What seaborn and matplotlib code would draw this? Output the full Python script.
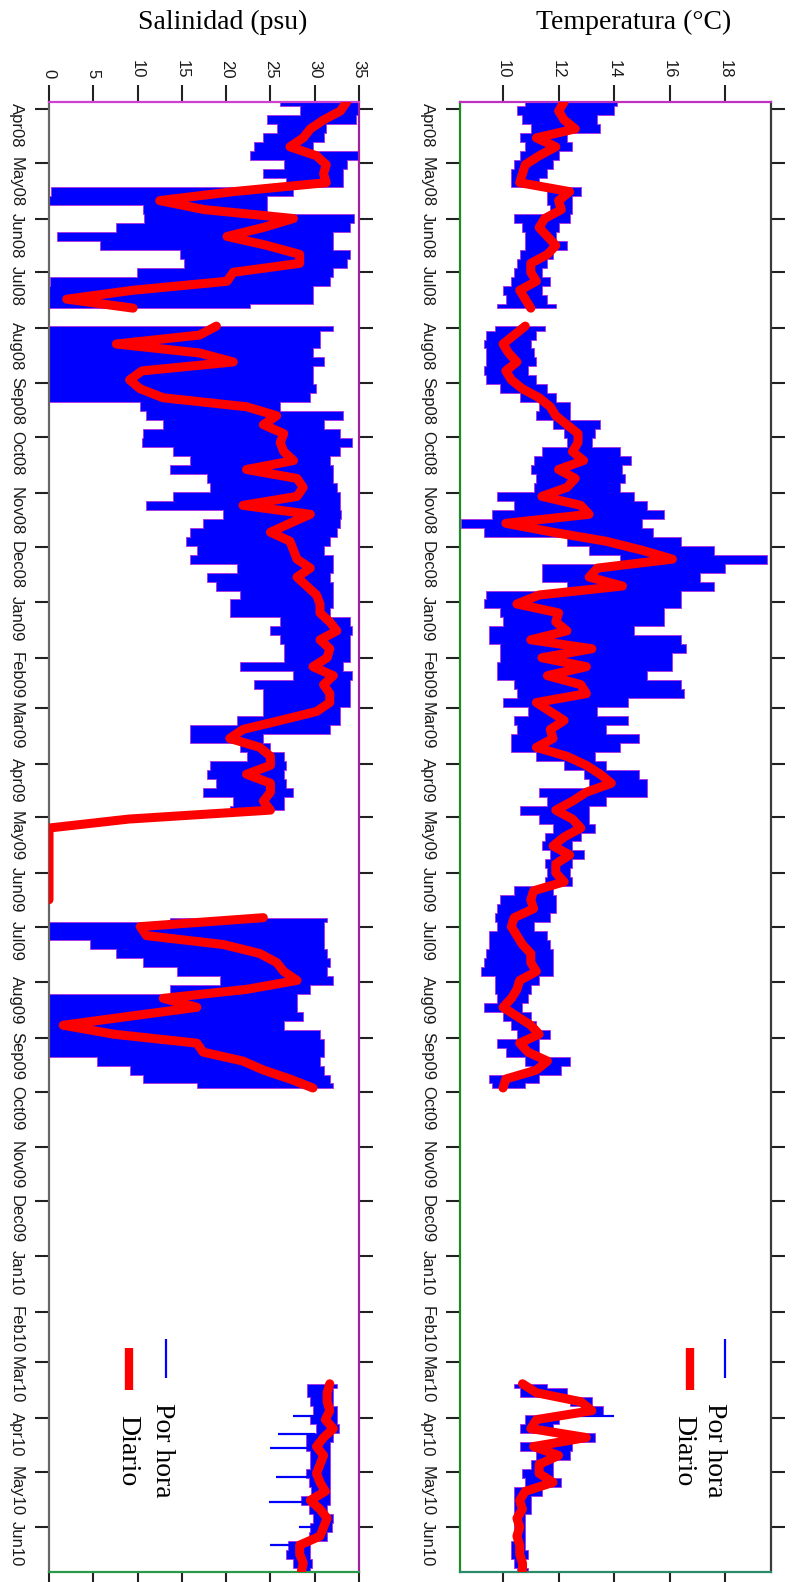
import numpy as np
import pandas as pd
import matplotlib
matplotlib.use("Agg")
import matplotlib.pyplot as plt
import matplotlib.dates as mdates
from matplotlib.lines import Line2D
import seaborn as sns

nan = np.nan

# ---------------- data (one value every 5 days) -------------
dates = pd.date_range("2008-03-28", periods=165, freq="5D")

temp_mean = [12.2, 12.0, 12.2, 12.6, 11.2, 11.9, 11.3, 10.8, 10.7, 10.6,
             12.4, 12.0, 12.1, 11.5, 11.3, 11.6, 11.9, 11.6, 11.0, 11.0,
             11.2, 10.6, 10.8, 11.0, nan, 10.8, 10.4, 10.0, 10.2, 10.5,
             10.1, 10.3, 10.7, 11.3, 11.7, 11.9, 12.3, 12.7, 12.7, 12.5,
             12.9, 12.0, 12.6, 12.3, 11.4, 12.8, 13.1, 10.1, 11.8, 13.7,
             15.0, 16.1, 13.4, 13.1, 14.3, 11.3, 10.5, 12.0, 11.9, 12.3,
             11.0, 13.2, 11.4, 13.0, 11.6, 12.8, 13.0, 11.2, 11.7, 12.2,
             11.7, 11.8, 11.2, 12.3, 13.0, 13.5, 13.9, 13.0, 12.5, 11.9,
             12.5, 12.8, 12.2, 11.8, 12.4, 11.9, 11.9, 12.2, 11.1, 11.0,
             11.1, 10.4, 10.3, 10.5, 10.7, 11.0, 11.0, 11.2, 10.6, 10.5,
             10.3, 10.0, 10.5, 11.0, 11.3, 10.6, 10.9, 11.6, 11.2, 10.1, 10.0] + [nan] * 32 + \
            [10.7, 11.2, 12.8, 13.2, 11.2, 11.0, 13.0, 11.1, 12.0, 11.3, 11.3,
             11.8, 10.8, 10.6, 10.7, 10.5, 10.6, 10.5, 10.6, 10.6, 10.7, 10.7]

temp_min = [10.8, 10.5, 10.7, 11.0, 10.6, 10.8, 10.6, 10.4, 10.3, 10.3,
            11.6, 11.6, 11.7, 10.4, 10.7, 10.8, 10.8, 10.6, 10.5, 10.4,
            10.3, 10.0, 10.1, 9.8, nan, 9.7, 9.4, 9.3, 9.4, 9.4,
            9.3, 9.4, 9.9, 10.6, 11.3, 11.2, 11.8, 12.2, 12.3, 11.4,
            11.1, 11.0, 11.2, 11.1, 9.8, 10.4, 9.6, 8.5, 9.3, 12.3,
            13.1, 14.2, 11.4, 11.4, 12.3, 9.4, 9.3, 9.9, 10.0, 9.5,
            9.5, 9.9, 9.9, 9.8, 9.8, 10.4, 10.5, 10.0, 10.9, 10.4,
            10.5, 10.3, 10.3, 11.2, 12.2, 12.9, 13.1, 11.3, 11.6, 10.6,
            11.3, 11.8, 11.5, 11.4, 11.7, 11.5, 11.6, 11.5, 10.4, 9.9,
            9.8, 9.7, 9.8, 9.5, 9.5, 9.4, 9.3, 9.2, 9.7, 9.7,
            9.8, 9.3, 10.0, 10.3, 10.5, 9.8, 10.1, 10.8, 11.0, 9.5, 9.6] + [nan] * 32 + \
           [10.4, 10.6, 12.4, 12.8, 10.8, 10.6, 12.3, 10.6, 11.2, 11.0, 10.7,
            10.8, 10.4, 10.4, 10.4, 10.4, 10.4, 10.4, 10.3, 10.3, 10.4, 10.5]

temp_max = [14.1, 14.0, 13.4, 13.5, 12.3, 12.5, 12.0, 11.8, 11.6, 11.3,
            12.8, 12.5, 12.5, 12.4, 12.0, 11.9, 12.3, 11.8, 11.6, 11.4,
            11.7, 11.4, 11.6, 11.9, nan, 11.5, 11.2, 11.0, 11.1, 11.2,
            10.9, 11.2, 11.6, 11.9, 12.4, 12.4, 13.5, 13.3, 13.2, 14.2,
            14.6, 14.3, 14.4, 14.2, 14.7, 15.2, 15.8, 15.0, 15.4, 16.4,
            17.6, 19.5, 18.0, 17.1, 17.6, 16.4, 16.4, 15.8, 15.8, 14.7,
            16.4, 16.6, 16.1, 16.1, 15.2, 16.4, 16.5, 14.5, 13.4, 14.5,
            13.7, 14.9, 14.2, 13.3, 13.7, 14.9, 15.2, 15.2, 13.7, 13.1,
            13.1, 13.3, 12.8, 12.5, 12.9, 12.5, 12.4, 12.5, 11.8, 11.9,
            11.9, 11.7, 11.1, 11.6, 11.7, 11.8, 11.8, 11.8, 11.3, 11.0,
            10.9, 10.7, 11.0, 11.2, 11.7, 11.3, 11.3, 12.4, 12.1, 11.3, 10.8] + [nan] * 32 + \
           [11.6, 12.3, 13.2, 13.6, 12.0, 11.8, 13.3, 12.5, 12.4, 11.8, 11.8,
            12.1, 11.4, 11.0, 11.0, 10.8, 10.8, 10.8, 10.8, 10.9, 10.8, 10.9]

sal_mean = [33.6, 32.9, 31.0, 29.5, 28.7, 27.2, 30.2, 31.3, 31.0, 31.3,
            20.8, 12.5, 17.5, 27.6, 24.2, 20.1, 24.6, 28.3, 28.3, 20.8,
            20.1, 9.5, 2.0, 9.5, nan, 18.9, 17.0, 7.6, 17.0, 20.8,
            10.5, 9.1, 10.3, 12.9, 22.3, 25.7, 24.2, 26.5, 26.1, 26.5,
            27.6, 22.3, 28.0, 28.7, 28.0, 21.9, 29.5, 27.2, 25.0, 27.2,
            27.6, 28.0, 29.5, 28.0, 29.1, 30.2, 30.6, 30.6, 31.7, 32.5,
            30.6, 31.7, 31.4, 29.8, 32.1, 31.0, 31.7, 31.7, 30.2, 26.1,
            21.9, 20.4, 23.8, 25.0, 25.0, 22.3, 25.0, 25.0, 24.2, 25.0,
            9.0, 0.0, 0.0, 0.0, 0.0, 0.0, 0.0, 0.0, 0.0, 0.0,
            nan, 24.2, 10.3, 11.0, 19.7, 23.8, 25.7, 26.5, 28.0, 22.3,
            12.9, 16.7, 9.1, 1.6, 7.3, 16.7, 17.4, 21.9, 24.2, 27.2, 29.8] + [nan] * 32 + \
           [31.7, 31.4, 31.4, 31.7, 31.2, 32.1, 31.0, 30.2, 31.0, 30.6, 30.2,
            30.6, 31.2, 29.5, 30.6, 31.4, 31.0, 30.6, 28.3, 28.3, 28.7, 28.5]

sal_min = [26.1, 28.3, 24.6, 25.7, 24.2, 23.1, 22.7, 26.5, 24.2, 26.8,
           0.2, 0.0, 10.6, 10.7, 7.6, 0.9, 5.8, 14.8, 15.2, 9.9,
           0.1, 0.0, 0.0, 0.0, nan, 0.0, 0.0, 0.0, 0.0, 0.0,
           0.0, 0.0, 0.0, 0.0, 10.3, 11.0, 12.9, 10.6, 10.5, 14.0,
           15.9, 13.7, 17.8, 18.2, 14.0, 11.0, 19.7, 17.4, 15.9, 15.5,
           16.7, 15.9, 21.2, 17.8, 18.9, 21.6, 20.4, 20.4, 26.1, 25.0,
           26.1, 26.5, 26.5, 21.6, 27.6, 23.1, 24.2, 24.2, 24.2, 21.2,
           15.9, 15.9, 21.6, 22.3, 18.2, 17.8, 18.9, 17.4, 20.8, 20.4,
           nan, nan, nan, nan, nan, nan, nan, nan, nan, nan,
           nan, 13.7, 0.0, 0.0, 4.6, 7.6, 10.6, 14.4, 19.3, 13.7,
           0.0, 0.0, 0.0, 0.0, 0.0, 0.0, 0.0, 5.4, 9.1, 10.6, 16.7] + [nan] * 32 + \
          [29.1, 29.1, 29.5, 29.8, 29.5, 30.2, 29.0, 29.0, 29.5, 29.5, 29.0,
           29.3, 29.6, 28.5, 29.3, 29.8, 29.5, 29.3, 27.0, 26.8, 27.6, 28.0]

sal_max = [35.0, 34.9, 34.7, 31.3, 31.0, 29.8, 34.9, 33.6, 33.2, 33.2,
           27.6, 24.6, 24.6, 34.4, 34.0, 32.1, 32.1, 34.0, 33.6, 32.1,
           31.7, 29.8, 29.8, 22.7, nan, 32.1, 30.6, 30.6, 29.8, 31.0,
           29.8, 29.8, 30.2, 29.5, 26.1, 33.2, 31.0, 32.9, 34.2, 32.9,
           31.7, 32.1, 32.1, 32.5, 32.9, 32.9, 33.0, 32.9, 32.5, 31.7,
           31.0, 32.1, 32.1, 31.7, 32.1, 32.1, 32.1, 31.7, 34.0, 34.2,
           34.0, 34.0, 34.0, 33.2, 34.2, 34.0, 34.0, 34.0, 32.9, 32.9,
           31.7, 24.2, 25.0, 26.5, 26.8, 26.5, 26.8, 27.6, 26.5, 26.5,
           nan, nan, nan, nan, nan, nan, nan, nan, nan, nan,
           nan, 31.4, 31.0, 31.0, 31.0, 31.4, 31.7, 31.4, 32.1, 29.5,
           28.0, 28.0, 28.7, 26.5, 30.6, 31.0, 31.0, 30.6, 31.0, 31.7, 32.1] + [nan] * 32 + \
          [32.5, 32.1, 32.1, 32.5, 32.5, 32.7, 32.1, 31.7, 31.7, 31.7, 31.7,
           31.7, 31.7, 31.7, 31.4, 32.1, 31.9, 31.4, 29.5, 29.5, 29.7, 29.5]

# isolated hourly spikes (2010)
sal_spike_dates = ["2010-03-31", "2010-04-10", "2010-04-18", "2010-05-04",
                   "2010-05-18", "2010-06-01", "2010-06-11"]
sal_spike_vals = [27.6, 25.9, 25.0, 25.6, 24.8, 28.2, 25.0]
sal_spike_base = [30.5, 30.0, 29.5, 30.0, 29.5, 30.0, 28.5]
temp_spike_dates = ["2010-03-31"]
temp_spike_vals = [14.0]
temp_spike_base = [12.6]

month_ticks = pd.date_range("2008-04-01", "2010-06-01", freq="MS")
month_labels = ["Apr08", "May08", "Jun08", "Jul08", "Aug08", "Sep08", "Oct08",
                "Nov08", "Dec08", "Jan09", "Feb09", "Mar09", "Apr09", "May09",
                "Jun09", "Jul09", "Aug09", "Sep09", "Oct09", "Nov09", "Dec09",
                "Jan10", "Feb10", "Mar10", "Apr10", "May10", "Jun10"]
temp_ticks = [10, 12, 14, 16, 18]
sal_ticks = [0, 5, 10, 15, 20, 25, 30, 35]
date_start, date_end = "2008-03-28", "2010-06-26"

BLUE = "#0000ff"
RED = "#ff0000"

# ---------------- figure ----------------
sns.set_theme(style="white")
plt.rcParams["font.family"] = ["Liberation Sans", "DejaVu Sans"]

W, H = 792, 1582
fig = plt.figure(figsize=(W / 100, H / 100), dpi=100)
fig.patch.set_facecolor("white")


def fx(px):
    return px / W


def fy(py):
    return 1 - py / H


top_px, bot_px = 102, 1572
ax_t = fig.add_axes([fx(460), fy(bot_px), fx(771 - 460), (bot_px - top_px) / H])
ax_s = fig.add_axes([fx(49), fy(bot_px), fx(359 - 49), (bot_px - top_px) / H])

ynum = mdates.date2num(dates.to_pydatetime())


def draw_panel(ax, mean, lo, hi, sp_dates, sp_vals, sp_base, xlim, xticks, spine_cols):
    df = pd.DataFrame({"t": ynum, "mean": mean, "lo": lo, "hi": hi})
    ax.fill_betweenx(df["t"].values, df["lo"].values, df["hi"].values, step="mid",
                     facecolor=BLUE, edgecolor="#b030e0", linewidth=0.6, zorder=2)
    sp_t = mdates.date2num(pd.to_datetime(sp_dates).to_pydatetime())
    ax.hlines(sp_t, sp_vals, sp_base, color=BLUE, linewidth=1.6, zorder=2)
    valid = df["mean"].notna()
    seg_id = (~valid).cumsum()
    for _, seg in df[valid].groupby(seg_id[valid]):
        sns.lineplot(data=seg, x="mean", y="t", sort=False, estimator=None,
                     color=RED, linewidth=6.5, ax=ax, zorder=3)
    ax.set_xlabel("")
    ax.set_ylabel("")
    ax.set_xlim(*xlim)
    ax.set_ylim(mdates.date2num(pd.Timestamp(date_end)), mdates.date2num(pd.Timestamp(date_start)))
    ax.set_xticks(xticks)
    ax.set_xticklabels([str(v) for v in xticks])
    ax.set_yticks(mdates.date2num(month_ticks.to_pydatetime()))
    ax.set_yticklabels(month_labels)
    ax.tick_params(axis="x", top=True, bottom=True, labeltop=True, labelbottom=False,
                   direction="out", length=12, width=1.5, labelsize=12,
                   labelrotation=-90, pad=5, color="#222222", labelcolor="#1a1a1a")
    ax.tick_params(axis="y", left=True, right=True, labelleft=True, labelright=False,
                   direction="out", length=10, width=1.5, labelsize=12,
                   labelrotation=-90, pad=8, color="#222222", labelcolor="#1a1a1a")
    for side, col in spine_cols.items():
        ax.spines[side].set_visible(True)
        ax.spines[side].set_color(col)
        ax.spines[side].set_linewidth(1.6)
    ax.set_facecolor("white")
    ax.grid(False)


draw_panel(ax_t, temp_mean, temp_min, temp_max, temp_spike_dates, temp_spike_vals,
           temp_spike_base, (8.45, 19.65), temp_ticks,
           {"left": "#1f8a2a", "right": "#3a3a3a", "top": "#c030c0", "bottom": "#2a8a6a"})
draw_panel(ax_s, sal_mean, sal_min, sal_max, sal_spike_dates, sal_spike_vals,
           sal_spike_base, (0, 35), sal_ticks,
           {"left": "#666666", "right": "#a020a0", "top": "#d040d0", "bottom": "#2a9a4a"})

# ---------------- axis titles (rotated layout) ----------------
serif = ["Liberation Serif", "DejaVu Serif"]
fig.text(fx(634), fy(22), "Temperatura (°C)", ha="center", va="center",
         family=serif, fontsize=20, color="black")
fig.text(fx(223), fy(22), "Salinidad (psu)", ha="center", va="center",
         family=serif, fontsize=20, color="black")

# ---------------- legends (rotated) ----------------
for bx, rx, tx1, tx2 in [(725, 690, 715, 684), (166, 129, 162, 128)]:
    fig.add_artist(Line2D([fx(bx), fx(bx)], [fy(1339), fy(1378)], color=BLUE,
                          linewidth=1.6, solid_capstyle="butt"))
    fig.add_artist(Line2D([fx(rx), fx(rx)], [fy(1348), fy(1390)], color=RED,
                          linewidth=6, solid_capstyle="butt"))
    fig.text(fx(tx1), fy(1403), "Por hora", rotation=-90, ha="center", va="top",
             family=serif, fontsize=20, color="black")
    fig.text(fx(tx2), fy(1415), "Diario", rotation=-90, ha="center", va="top",
             family=serif, fontsize=20, color="black")

fig.savefig("out.png", dpi=100, facecolor="white")
